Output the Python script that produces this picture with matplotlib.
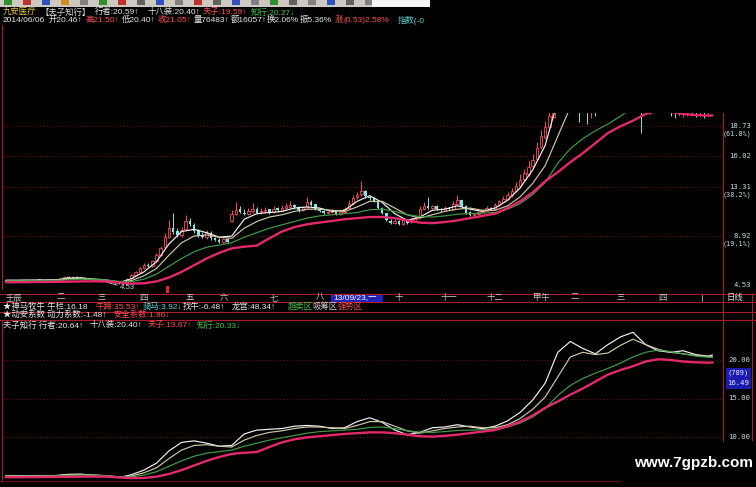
import numpy as np
import matplotlib
matplotlib.use("Agg")
import matplotlib.pyplot as plt
from matplotlib.patches import Rectangle
from matplotlib.lines import Line2D
import matplotlib.transforms as mtrans

plt.rcParams['font.family'] = ['Liberation Sans', 'Noto Sans CJK SC', 'DejaVu Sans']

# ---------------- daily bars (九安医疗) ----------------
opens = [
    4.95, 4.91, 4.96, 4.90, 4.96, 5.01, 4.93, 4.95, 5.03, 4.99,
    4.92, 4.98, 5.04, 5.00, 5.11, 5.24, 5.17, 5.27, 5.16, 5.09,
    5.03, 4.97, 5.05, 4.98, 4.93, 4.87, 4.79, 4.71, 4.63, 4.62,
    5.12, 5.42, 5.72, 6.02, 6.35, 6.22, 6.68, 7.25, 7.90, 8.85,
    9.65, 9.35, 8.98, 9.50, 10.25, 9.90, 9.40, 9.00, 8.78, 9.20,
    8.72, 8.58, 8.38, 8.62, 10.20, 10.90, 11.30, 11.00, 10.88, 11.12,
    11.32, 11.02, 11.12, 11.28, 11.02, 11.38, 11.18, 11.42, 11.50, 11.68,
    11.48, 11.22, 11.48, 11.98, 11.72, 11.32, 11.18, 10.92, 11.08, 11.12,
    10.88, 11.08, 11.38, 11.85, 12.35, 12.62, 12.95, 12.40, 12.28, 11.95,
    11.38, 10.92, 10.28, 10.08, 10.28, 9.98, 10.32, 10.12, 10.38, 10.58,
    11.28, 11.62, 11.38, 11.58, 11.32, 11.18, 11.42, 11.32, 11.78, 12.08,
    11.58, 11.02, 10.82, 10.88, 11.02, 11.18, 11.42, 11.32, 11.68, 11.98,
    12.25, 12.55, 12.95, 13.35, 13.95, 14.45, 15.15, 15.75, 16.85, 17.75,
    18.65, 19.55, 20.85, 22.25, 23.70, 23.05, 22.15, 21.35, 20.75, 21.05,
    20.45, 20.75, 20.35, 20.95, 21.65, 22.55, 23.15, 23.45, 23.95, 24.65,
    23.85, 23.15, 22.05, 21.25, 20.85, 20.55, 21.05, 21.15, 21.45, 20.95,
    20.75, 20.45, 20.35, 20.65, 20.85, 20.55, 20.35, 20.55, 20.25, 20.46,
]
highs = [
    4.99, 4.98, 4.99, 5.00, 5.05, 5.04, 4.99, 5.07, 5.06, 5.01,
    5.02, 5.07, 5.06, 5.14, 5.30, 5.29, 5.34, 5.30, 5.19, 5.12,
    5.06, 5.08, 5.07, 5.00, 4.95, 4.89, 4.81, 4.73, 4.68, 5.16,
    5.55, 5.82, 6.15, 6.48, 6.45, 6.80, 7.38, 8.05, 9.20, 10.30,
    10.95, 9.60, 9.70, 10.80, 10.50, 10.05, 9.55, 9.25, 9.40, 9.35,
    8.85, 8.70, 8.75, 8.70, 11.20, 11.95, 11.60, 11.30, 11.40, 11.85,
    11.50, 11.40, 11.45, 11.35, 11.60, 11.50, 11.70, 11.85, 12.05, 11.80,
    11.55, 11.60, 12.40, 12.10, 11.80, 11.40, 11.25, 11.15, 11.35, 11.20,
    11.20, 11.50, 12.10, 12.55, 12.80, 13.80, 13.05, 12.60, 12.35, 12.05,
    11.45, 11.00, 10.40, 10.45, 10.35, 10.45, 10.40, 10.50, 10.70, 11.55,
    11.90, 12.35, 11.70, 11.65, 11.40, 11.55, 11.50, 12.00, 12.60, 12.15,
    11.65, 11.10, 11.00, 11.15, 11.35, 11.55, 11.50, 11.85, 12.15, 12.45,
    12.80, 13.20, 13.70, 14.40, 14.90, 15.60, 16.20, 17.30, 18.40, 19.20,
    20.10, 21.30, 22.80, 24.50, 24.20, 23.40, 22.40, 21.60, 21.50, 21.30,
    21.10, 20.90, 21.20, 22.00, 22.90, 23.60, 24.10, 24.50, 27.51, 24.90,
    24.10, 23.30, 22.20, 21.50, 21.10, 21.30, 21.50, 21.70, 21.60, 21.10,
    20.90, 20.70, 20.80, 21.00, 21.00, 20.70, 20.70, 20.60, 20.80, 21.50,
]
lows = [
    4.88, 4.89, 4.86, 4.88, 4.93, 4.91, 4.90, 4.93, 4.95, 4.90,
    4.90, 4.96, 4.97, 4.98, 5.08, 5.13, 5.14, 5.12, 5.04, 4.99,
    4.95, 4.94, 4.94, 4.89, 4.83, 4.75, 4.66, 4.58, 4.53, 4.60,
    5.05, 5.35, 5.62, 5.95, 6.10, 6.15, 6.58, 7.15, 7.80, 8.70,
    9.10, 8.80, 8.85, 9.40, 9.80, 9.20, 8.85, 8.70, 8.65, 8.55,
    8.45, 8.30, 8.30, 8.25, 10.15, 10.75, 10.95, 10.75, 10.80, 11.00,
    10.85, 10.90, 11.00, 10.90, 10.95, 11.05, 11.10, 11.30, 11.40, 11.35,
    11.05, 11.10, 11.40, 11.55, 11.20, 11.05, 10.85, 10.85, 10.95, 10.80,
    10.80, 10.95, 11.30, 11.75, 12.25, 12.50, 12.30, 12.15, 11.90, 11.30,
    10.85, 10.20, 9.95, 10.00, 9.85, 9.90, 9.95, 10.05, 10.30, 10.50,
    11.20, 11.30, 11.30, 11.20, 11.05, 11.10, 11.20, 11.25, 11.70, 11.50,
    10.90, 10.65, 10.75, 10.80, 10.95, 11.10, 11.20, 11.25, 11.60, 11.90,
    12.10, 12.40, 12.80, 13.20, 13.80, 14.30, 15.00, 15.60, 16.70, 17.60,
    18.50, 19.40, 20.60, 22.00, 22.90, 21.90, 21.10, 19.10, 20.40, 18.90,
    19.40, 19.60, 20.20, 20.80, 21.50, 22.40, 23.00, 23.20, 23.70, 23.50,
    22.90, 21.80, 18.10, 20.40, 19.80, 20.30, 20.60, 20.90, 20.60, 19.60,
    19.40, 19.70, 19.50, 19.60, 19.80, 19.50, 19.60, 19.40, 19.70, 20.40,
]
closes = [
    4.92, 4.95, 4.90, 4.97, 5.00, 4.94, 4.96, 5.02, 4.98, 4.93,
    4.99, 5.03, 5.00, 5.10, 5.22, 5.18, 5.26, 5.15, 5.08, 5.02,
    4.98, 5.04, 4.97, 4.92, 4.86, 4.78, 4.70, 4.62, 4.60, 5.10,
    5.45, 5.70, 6.05, 6.30, 6.20, 6.65, 7.20, 7.85, 8.80, 9.60,
    9.30, 8.95, 9.45, 10.20, 9.95, 9.35, 8.95, 8.80, 9.15, 8.70,
    8.55, 8.40, 8.60, 8.35, 10.85, 11.25, 11.05, 10.90, 11.10, 11.30,
    11.00, 11.10, 11.25, 11.00, 11.35, 11.20, 11.40, 11.55, 11.65, 11.45,
    11.20, 11.45, 11.95, 11.70, 11.30, 11.15, 10.95, 11.05, 11.10, 10.90,
    11.05, 11.35, 11.80, 12.30, 12.60, 12.90, 12.45, 12.30, 12.00, 11.40,
    10.95, 10.30, 10.10, 10.25, 10.00, 10.30, 10.10, 10.40, 10.55, 11.30,
    11.60, 11.40, 11.55, 11.30, 11.20, 11.40, 11.30, 11.80, 12.10, 11.60,
    11.00, 10.80, 10.90, 11.05, 11.20, 11.40, 11.30, 11.70, 12.00, 12.20,
    12.60, 12.90, 13.40, 13.90, 14.50, 15.10, 15.70, 16.80, 17.80, 18.60,
    19.60, 20.80, 22.20, 23.60, 23.10, 22.10, 21.30, 20.80, 21.00, 20.50,
    20.70, 20.30, 20.90, 21.60, 22.50, 23.10, 23.50, 23.90, 24.60, 23.90,
    23.20, 22.00, 21.30, 20.80, 20.60, 21.00, 21.20, 21.40, 21.00, 20.70,
    20.50, 20.40, 20.60, 20.80, 20.60, 20.40, 20.50, 20.30, 20.60, 21.05,
]

# ---------------- 夫子知行 lines, one value every 3rd bar plus the last bar ----------------
xingzhe = [  # 行者
    4.95, 4.95, 4.96, 4.97, 5.00, 5.15, 5.18, 5.02, 4.95, 4.72,
    5.10, 5.70, 6.60, 8.20, 9.30, 9.50, 9.20, 8.80, 8.90, 10.40,
    10.90, 11.00, 11.10, 11.40, 11.50, 11.40, 11.10, 11.20, 12.00, 12.50,
    11.90, 10.90, 10.30, 10.60, 11.20, 11.30, 11.60, 11.30, 11.10, 11.40,
    12.10, 13.20, 14.80, 17.00, 21.00, 22.40, 21.50, 20.80, 22.00, 23.00,
    23.60, 22.00, 21.20, 21.00, 21.20, 20.70, 20.50, 20.64,
]
shibazhuang = [  # 十八装
    4.95, 4.95, 4.96, 4.97, 4.98, 5.08, 5.13, 5.08, 4.98, 4.82,
    4.92, 5.35, 6.00, 7.20, 8.30, 8.90, 9.00, 8.80, 8.70, 9.60,
    10.20, 10.60, 10.80, 11.10, 11.30, 11.30, 11.20, 11.10, 11.50, 12.00,
    12.00, 11.40, 10.80, 10.50, 10.80, 11.10, 11.30, 11.40, 11.20, 11.20,
    11.60, 12.40, 13.60, 15.20, 17.80, 20.40, 21.00, 20.70, 20.90, 21.90,
    22.70, 22.00, 21.40, 21.00, 20.80, 20.60, 20.45, 20.40,
]
zhixing = [  # 知行
    4.90, 4.90, 4.91, 4.92, 4.94, 5.00, 5.05, 5.03, 4.97, 4.85,
    4.82, 5.05, 5.50, 6.20, 6.90, 7.50, 7.90, 8.10, 8.30, 8.80,
    9.20, 9.60, 9.90, 10.20, 10.50, 10.70, 10.80, 10.90, 11.00, 11.25,
    11.30, 11.10, 10.80, 10.65, 10.60, 10.70, 10.85, 10.90, 10.95, 11.00,
    11.30, 11.80, 12.60, 13.70, 15.40, 16.70, 17.60, 18.30, 18.90, 19.60,
    20.40, 21.00, 21.30, 21.10, 20.80, 20.50, 20.35, 20.33,
]
fuzi = [  # 夫子
    4.78, 4.78, 4.79, 4.80, 4.81, 4.83, 4.85, 4.86, 4.85, 4.75,
    4.66, 4.68, 4.85, 5.20, 5.70, 6.30, 6.90, 7.40, 7.80, 7.95,
    8.05, 8.70, 9.30, 9.70, 9.95, 10.10, 10.25, 10.40, 10.50, 10.60,
    10.60, 10.50, 10.30, 10.10, 10.05, 10.15, 10.30, 10.50, 10.70, 10.90,
    11.40, 12.00, 12.80, 13.80, 14.60, 15.50, 16.30, 17.20, 18.10, 18.70,
    19.20, 19.80, 20.10, 20.00, 19.80, 19.70, 19.65, 19.67,
]

# calendar row: first bar of each lunar month label
month_labels = ['壬辰', '二', '三', '四', '五', '六', '七', '八',
                '十', '十一', '十二', '甲午', '二', '三', '四']
month_bars = [0, 12, 22, 32, 43, 51, 63, 74, 93, 104, 115, 126, 135, 146, 156]
cursor_bar = 79
cursor_label = '13/09/23,一'

# fibonacci levels of the price range
fib_pcts = [0.0, 0.191, 0.382, 0.5, 0.618]

# ---------------- styling ----------------
W, H = 756, 487
BAR_PX = 4.18          # pixel pitch of one bar
FIRST_BAR_PX = 6       # pixel x of bar 0
TXT = 6.0
WHITE = '#e6e6e6'
RED = '#ff4c4c'
GREEN = '#3cc43c'
CYAN = '#5fd0d0'
YELLOW = '#e8c838'
FRAME = '#a81c2c'
GRID = '#6a1420'
UP = '#ff4a5a'
DOWN = '#7ee6e6'
AXLBL = '#bfe2e2'

fig = plt.figure(figsize=(W / 100, H / 100), dpi=100, facecolor='black')


def box(x0, y0, x1, y1):
    return [x0 / W, 1 - y1 / H, (x1 - x0) / W, (y1 - y0) / H]


def hline(y, x0, x1, color=FRAME, lw=0.8, ls='-', z=5):
    fig.add_artist(Line2D([x0 / W, x1 / W], [1 - y / H, 1 - y / H],
                          color=color, lw=lw, ls=ls, zorder=z))


def vline(x, y0, y1, color=FRAME, lw=0.8, z=5):
    fig.add_artist(Line2D([x / W, x / W], [1 - y0 / H, 1 - y1 / H],
                          color=color, lw=lw, zorder=z))


def rect(x0, y0, x1, y1, color, z=4):
    fig.add_artist(Rectangle((x0 / W, 1 - y1 / H), (x1 - x0) / W, (y1 - y0) / H,
                             transform=fig.transFigure, facecolor=color,
                             edgecolor='none', zorder=z))


def ftext(x, y, s, color=WHITE, size=TXT, ha='left', z=6, **kw):
    fig.text(x / W, 1 - y / H, s, color=color, fontsize=size, ha=ha,
             va='center', zorder=z, **kw)


def row(y, segments):
    for x, s, c in segments:
        ftext(x, y, s, c)


def bar_xlim(px0, px1):
    return ((px0 - FIRST_BAR_PX) / BAR_PX, (px1 - FIRST_BAR_PX) / BAR_PX)


o = np.array(opens)
h = np.array(highs)
l = np.array(lows)
c = np.array(closes)
idx = np.arange(len(c))
ma_idx = np.r_[np.arange(0, len(c) - 1, 3), len(c) - 1]

lines = [
    (xingzhe, '#f2f2f2', 0.85, 5),
    (shibazhuang, '#cfc8a4', 0.85, 5),
    (zhixing, '#3f9e45', 0.85, 6),
    (fuzi, '#e4286c', 1.7, 7),
]

# ---------------- toolbar strip ----------------
rect(0, 0, 430, 7, '#cdc9c1', z=3)
for k, col in enumerate(['#2f8f2f', '#c03030', '#3050c0', '#d09020', '#808080',
                         '#2f8f2f', '#c03030', '#606060', '#3050c0', '#808080',
                         '#c03030', '#606060', '#3050c0', '#808080', '#2f8f2f',
                         '#606060', '#808080', '#3050c0', '#606060', '#808080']):
    rect(4 + k * 19, 0, 12 + k * 19, 5, col, z=4)
rect(372, 0, 430, 7, '#f4f4f4', z=4)

# ---------------- header rows ----------------
last = len(c) - 1
row(12, [(3, '九安医疗', YELLOW), (40, '【夫子知行】', '#d6d6d6'),
         (95, '行者:20.59↑', WHITE), (147, '十八装:20.40↑', WHITE),
         (203, '夫子:19.59↑', RED), (251, '知行:20.27↓', GREEN)])
row(20, [(3, '2014/06/06', WHITE), (49, f'开{o[last]:.2f}↑', WHITE),
         (86, f'高{h[last]:.2f}↑', RED), (122, f'低{l[last]:.2f}↑', WHITE),
         (158, f'收{c[last]:.2f}↑', RED), (194, '量76483↑', WHITE),
         (231, '额16057↑', WHITE), (267, '换2.06%', WHITE), (300, '振5.36%', WHITE),
         (335, '涨', RED), (344, '(0.53)2.58%', RED), (398, '指数(-0', CYAN)])

# ---------------- price panel ----------------
PX_PER_YUAN = 11.2
low_min = l.min()
high_max = h.max()
ax = fig.add_axes(box(3, 113, 722, 289))
ax.set_axis_off()
ax.set_xlim(*bar_xlim(3, 722))
ax.set_ylim(low_min - (289 - 285) / PX_PER_YUAN, low_min + (285 - 113) / PX_PER_YUAN)

fib_vals = [low_min + p * (high_max - low_min) for p in fib_pcts]
for v in fib_vals[1:]:
    ax.axhline(v, color=GRID, lw=0.8, ls=(0, (1, 2)), zorder=1)

up = c >= o
dn = ~up
ax.vlines(idx[up], l[up], h[up], color=UP, lw=0.7, zorder=2)
ax.vlines(idx[dn], l[dn], h[dn], color=DOWN, lw=0.7, zorder=2)
ax.bar(idx[up], np.maximum((c - o)[up], 0.03), bottom=o[up], width=0.6,
       facecolor='black', edgecolor=UP, linewidth=0.6, zorder=3)
ax.bar(idx[dn], np.maximum((o - c)[dn], 0.04), bottom=c[dn], width=0.6,
       color=DOWN, linewidth=0, zorder=3)

for vals, col, lw, z in lines:
    ax.plot(ma_idx, vals, color=col, lw=lw, zorder=z, solid_capstyle='round')

imin = int(np.argmin(l))
ax.annotate(f'{low_min:.2f}', xy=(imin - 4, low_min + 0.25), xytext=(10, -4),
            textcoords='offset points', color='#cfcfcf', fontsize=5.6,
            va='center', ha='left', annotation_clip=False,
            arrowprops=dict(arrowstyle='-', color='#cfcfcf', lw=0.6,
                            shrinkA=0, shrinkB=0))

# right-hand price scale with fibonacci percentages
price_tr = mtrans.blended_transform_factory(fig.transFigure, ax.transData)
pct_tr = mtrans.offset_copy(price_tr, fig=fig, y=-8, units='dots')
for p, v in zip(fib_pcts, fib_vals):
    fig.text(751 / W, v, f'{v:.2f}', transform=price_tr, color=AXLBL,
             fontsize=5.2, ha='right', va='center', family='DejaVu Sans Mono')
    if p in (0.191, 0.382, 0.618):
        fig.text(752 / W, v, f'({p * 100:.1f}%)', transform=pct_tr, color=AXLBL,
                 fontsize=4.9, ha='right', va='center', family='DejaVu Sans Mono')

# signal marker under the breakout bar
rect(166, 286, 169, 293, '#e02828', z=6)

# frame
vline(2, 25, 289)
vline(723, 113, 441)
vline(752, 294, 441)

# ---------------- calendar row ----------------
for yy in (294, 302, 312, 320):
    hline(yy, 0, 756)
date_tr = mtrans.blended_transform_factory(ax.transData, fig.transFigure)
for lab, b in zip(month_labels, month_bars):
    fig.text(b, 1 - 298 / H, lab, transform=date_tr, color='#cccccc',
             fontsize=TXT, ha='left', va='center', zorder=6)
cx = FIRST_BAR_PX + cursor_bar * BAR_PX
rect(cx - 5, 294.5, cx + 47, 301.8, '#2222b8', z=5)
ftext(cx - 3, 298, cursor_label, '#ffffff')
vline(702, 295, 301, color='#aaaaaa', lw=0.6)
ftext(727, 298, '日线', '#dddddd')

# ---------------- indicator title rows ----------------
row(307, [(3, '★神马牧牛 牛栏:16.18', WHITE), (96, '牛蹄:35.53↑', RED),
          (143, '骑马:3.92↓', CYAN), (183, '找牛:-6.48↑', WHITE),
          (232, '龙宫:48.34↑', WHITE), (288, '超卖区', GREEN),
          (312, '吸筹区', '#d0d0d0'), (338, '强势区', RED)])
row(315, [(3, '★动安系数 动力系数:-1.48↑', WHITE), (113, '安全系数:1.86↓', RED)])
row(325, [(3, f'夫子知行 行者:{xingzhe[-1]:.2f}↑', WHITE),
          (90, f'十八装:{shibazhuang[-1]:.2f}↑', WHITE),
          (148, f'夫子:{fuzi[-1]:.2f}↑', RED),
          (197, f'知行:{zhixing[-1]:.2f}↓', GREEN)])

# ---------------- 夫子知行 panel ----------------
PX_PER_YUAN_LOW = 7.7
ax2 = fig.add_axes(box(3, 322, 722, 481))
ax2.set_axis_off()
ax2.set_xlim(*bar_xlim(3, 722))
ax2.set_ylim(20 - (481 - 360) / PX_PER_YUAN_LOW, 20 + (360 - 322) / PX_PER_YUAN_LOW)
low_ticks = [20, 15, 10]
for v in low_ticks:
    ax2.axhline(v, color=GRID, lw=0.8, ls=(0, (1, 2)), zorder=1)
for vals, col, lw, z in lines:
    ax2.plot(ma_idx, vals, color=col, lw=lw, zorder=z)

low_tr = mtrans.blended_transform_factory(fig.transFigure, ax2.transData)
for v in low_ticks:
    fig.text(750 / W, v, f'{v:.2f}', transform=low_tr, color=AXLBL,
             fontsize=5.2, ha='right', va='center', family='DejaVu Sans Mono')
rect(726, 368, 751, 389, '#1c1cb0', z=6)
ftext(738.5, 373, '(789)', '#e8e8ff', size=5.0, ha='center', z=7, family='DejaVu Sans Mono')
ftext(738.5, 383, '16.49', '#e8e8ff', size=5.2, ha='center', z=7, family='DejaVu Sans Mono')

vline(2, 320, 481)
hline(481, 0, 620, color='#5a1018', lw=1.0)
rect(723.5, 441, 756, 487, 'black', z=8)

ftext(694, 463, 'www.7gpzb.com', '#ffffff', size=11, ha='center', z=9,
      family='Liberation Sans', fontweight='bold')

fig.savefig('out.png', dpi=100, facecolor='black')
